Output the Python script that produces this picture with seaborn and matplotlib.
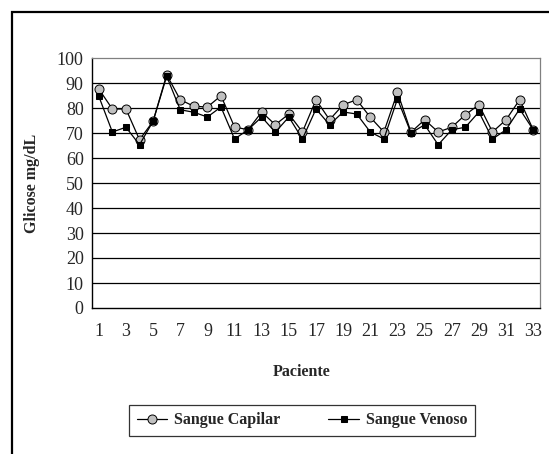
import numpy as np
import pandas as pd
import matplotlib
matplotlib.use('Agg')
import matplotlib.pyplot as plt
import seaborn as sns
from matplotlib.patches import Rectangle
from matplotlib.ticker import MultipleLocator

# values
pacientes = list(range(1, 34))
capilar = [87.6, 79.6, 79.6, 67.3, 74.7, 93.3, 83.3, 80.7, 80.4, 84.9, 72.4,
           71.3, 78.4, 73.3, 77.6, 70.4, 83.3, 75.3, 81.3, 83.3, 76.3, 70.4,
           86.3, 70.3, 75.3, 70.4, 72.3, 77.3, 81.3, 70.4, 75.3, 83.3, 71.3]
venoso = [84.7, 70.4, 72.3, 65.3, 74.7, 92.7, 79.3, 78.3, 76.4, 80.4, 67.6,
          71.3, 76.4, 70.3, 76.4, 67.6, 79.6, 73.3, 78.4, 77.6, 70.4, 67.6,
          83.6, 70.0, 73.3, 65.3, 71.3, 72.3, 78.4, 67.6, 71.3, 79.6, 71.3]
y_ticks = list(range(0, 101, 10))
x_labels = [str(p) for p in pacientes[::2]]

df = pd.DataFrame({'Paciente': pacientes, 'Sangue Capilar': capilar, 'Sangue Venoso': venoso})

sns.set_style('white')
plt.rcParams['font.family'] = ['Liberation Serif', 'DejaVu Serif']

fig = plt.figure(figsize=(5.49, 4.54), dpi=100)
ax = fig.add_axes([92 / 549, 1 - 308 / 454, 448 / 549, 250 / 454])

sns.lineplot(data=df, x='Paciente', y='Sangue Capilar', ax=ax, color='black', lw=0.9,
             marker='o', markersize=6.5, markerfacecolor='#c0c0c0', markeredgecolor='black',
             markeredgewidth=0.7, label='Sangue Capilar', legend=False)
sns.lineplot(data=df, x='Paciente', y='Sangue Venoso', ax=ax, color='black', lw=0.9,
             marker='s', markersize=4.8, markerfacecolor='black', markeredgecolor='black',
             label='Sangue Venoso', legend=False)

ax.set_xlim(0.5, 33.5)
ax.set_ylim(0, 100)
ax.set_yticks(y_ticks)
ax.set_yticklabels([str(v) for v in y_ticks], fontsize=13)
ax.set_xticks(pacientes[::2])
ax.set_xticklabels(x_labels, fontsize=13)
ax.xaxis.set_minor_locator(MultipleLocator(1, offset=0.5))
ax.tick_params(axis='x', which='major', length=0, pad=11)
ax.tick_params(axis='x', which='minor', length=4, width=0.8, direction='out', color='black')
ax.tick_params(axis='y', which='major', length=4, width=0.8, direction='out', color='black', pad=2)

for v in y_ticks[1:-1]:
    ax.axhline(v, color='black', lw=0.9, zorder=0)

for side in ['left', 'bottom']:
    ax.spines[side].set_color('black')
    ax.spines[side].set_linewidth(1.0)
for side in ['top', 'right']:
    ax.spines[side].set_color('#808080')
    ax.spines[side].set_linewidth(0.9)

ax.set_xlabel('Paciente', fontsize=11.5, fontweight='bold')
ax.xaxis.set_label_coords((302 - 92) / 448, (308 - 372) / 250)
ax.xaxis.label.set_va('center')
ax.set_ylabel('Glicose mg/dL', fontsize=11.5, fontweight='bold')
ax.yaxis.set_label_coords((32 - 92) / 448, (308 - 183) / 250)
ax.yaxis.label.set_va('center')

handles, labels = ax.get_legend_handles_labels()
leg = fig.legend(handles, labels, loc='center', bbox_to_anchor=(302 / 549, 1 - 420.5 / 454),
                 ncol=2, frameon=True, fancybox=False, edgecolor='black', handlelength=1.9,
                 columnspacing=3.0, handletextpad=0.45, borderpad=0.5,
                 prop={'size': 11.5, 'weight': 'bold'})
leg.get_frame().set_linewidth(0.9)

fig.patches.append(Rectangle((11.5 / 549, -0.2), 1.2, 1.2 + (1 - 11.5 / 454) - 1,
                             transform=fig.transFigure, fill=False, edgecolor='black',
                             lw=1.6, zorder=5))

fig.savefig('out.png', dpi=100)
